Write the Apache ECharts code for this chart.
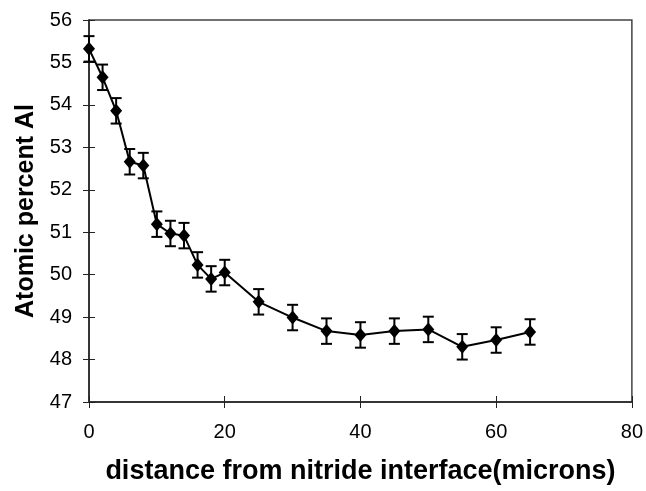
<!DOCTYPE html>
<html>
<head>
<meta charset="utf-8">
<script src="https://cdn.jsdelivr.net/npm/echarts@6/dist/echarts.min.js"></script>
<style>
html,body{margin:0;padding:0;background:#fff;}
#chart{width:646px;height:491px;}
</style>
</head>
<body>
<div id="chart"></div>
<script>
var distance = [0, 2, 4, 6, 8, 10, 12, 14, 16, 18, 20, 25, 30, 35, 40, 45, 50, 55, 60, 65];
var alPercent = [55.32, 54.65, 53.86, 52.66, 52.57, 51.19, 50.97, 50.92, 50.23, 49.90, 50.05, 49.36, 48.99, 48.67, 48.58, 48.67, 48.71, 48.30, 48.46, 48.65];
var errorBar = [0.3, 0.3, 0.3, 0.3, 0.3, 0.3, 0.3, 0.3, 0.3, 0.3, 0.3, 0.3, 0.3, 0.3, 0.3, 0.3, 0.3, 0.3, 0.3, 0.3];
var xTicks = [0, 20, 40, 60, 80];
var yTicks = [47, 48, 49, 50, 51, 52, 53, 54, 55, 56];

var lineData = distance.map(function (d, i) { return [d, alPercent[i]]; });
var errData = distance.map(function (d, i) { return [d, alPercent[i] - errorBar[i], alPercent[i] + errorBar[i]]; });

var font = 'Liberation Sans, Arial, sans-serif';
var chart = echarts.init(document.getElementById('chart'), null, {renderer: 'canvas'});
var baseX = {
  type: 'value', min: xTicks[0], max: xTicks[xTicks.length - 1], interval: 20,
  splitLine: {show: false}
};
var baseY = {
  type: 'value', min: yTicks[0], max: yTicks[yTicks.length - 1], interval: 1,
  splitLine: {show: false}
};
chart.setOption({
  animation: false,
  backgroundColor: '#ffffff',
  grid: {left: 89, top: 20, right: 13, bottom: 89, show: true, borderColor: '#444', borderWidth: 1.5, backgroundColor: 'transparent'},
  xAxis: [
    Object.assign({}, baseX, {
      position: 'bottom',
      name: 'distance from nitride interface(microns)',
      nameLocation: 'middle', nameGap: 56,
      nameTextStyle: {fontFamily: font, fontWeight: 'bold', fontSize: 27, color: '#000'},
      axisLine: {show: true, onZero: false, lineStyle: {color: '#222', width: 1.5}},
      axisTick: {show: true, inside: false, length: 6, lineStyle: {color: '#222', width: 1}},
      axisLabel: {margin: 20, fontFamily: font, fontSize: 20, color: '#000'}
    }),
    Object.assign({}, baseX, {
      position: 'bottom',
      axisLine: {show: false},
      axisTick: {show: true, inside: true, length: 6, lineStyle: {color: '#222', width: 1}},
      axisLabel: {show: false}
    })
  ],
  yAxis: [
    Object.assign({}, baseY, {
      position: 'left',
      name: 'Atomic percent Al',
      nameLocation: 'middle', nameGap: 47, nameRotate: 90,
      nameTextStyle: {fontFamily: font, fontWeight: 'bold', fontSize: 25, color: '#000'},
      axisLine: {show: true, onZero: false, lineStyle: {color: '#222', width: 1.5}},
      axisTick: {show: true, inside: false, length: 6, lineStyle: {color: '#222', width: 1}},
      axisLabel: {margin: 17, fontFamily: font, fontSize: 20, color: '#000'}
    }),
    Object.assign({}, baseY, {
      position: 'left',
      axisLine: {show: false},
      axisTick: {show: true, inside: true, length: 6, lineStyle: {color: '#222', width: 1}},
      axisLabel: {show: false}
    })
  ],
  series: [
    {
      type: 'custom',
      xAxisIndex: 0, yAxisIndex: 0,
      data: errData,
      z: 3,
      renderItem: function (params, api) {
        var x = api.value(0);
        var lo = api.coord([x, api.value(1)]);
        var hi = api.coord([x, api.value(2)]);
        var hw = 5.5;
        var st = {stroke: '#000', lineWidth: 2};
        return {
          type: 'group',
          children: [
            {type: 'line', shape: {x1: lo[0], y1: lo[1], x2: hi[0], y2: hi[1]}, style: st},
            {type: 'line', shape: {x1: lo[0] - hw, y1: lo[1], x2: lo[0] + hw, y2: lo[1]}, style: st},
            {type: 'line', shape: {x1: hi[0] - hw, y1: hi[1], x2: hi[0] + hw, y2: hi[1]}, style: st}
          ]
        };
      }
    },
    {
      type: 'line',
      xAxisIndex: 0, yAxisIndex: 0,
      data: lineData,
      z: 4,
      symbol: 'diamond',
      symbolSize: [12, 14],
      lineStyle: {color: '#000', width: 2},
      itemStyle: {color: '#000'}
    }
  ]
});
</script>
</body>
</html>
